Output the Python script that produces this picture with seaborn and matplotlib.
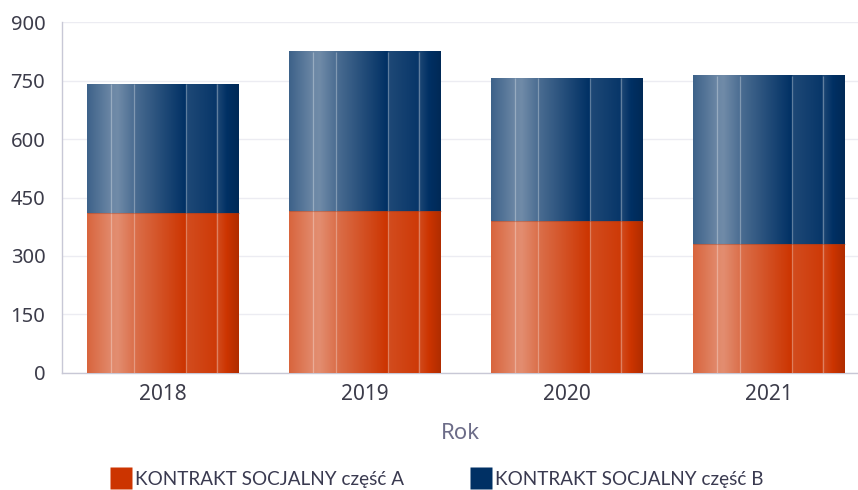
import numpy as np
import pandas as pd
import matplotlib
matplotlib.use("Agg")
import matplotlib.pyplot as plt
from matplotlib.lines import Line2D
import seaborn as sns

# ---- data ----
years = ["2018", "2019", "2020", "2021"]
part_a = [411, 416, 390, 330]
part_b = [331, 409, 366, 432]
series_labels = ["KONTRAKT SOCJALNY część A", "KONTRAKT SOCJALNY część B"]
y_ticks = [0, 150, 300, 450, 600, 750, 900]
x_label = "Rok"

color_a = np.array([204, 52, 0]) / 255
color_b = np.array([0, 48, 100]) / 255

sns.set_theme(style="white")
plt.rcParams["font.family"] = ["Noto Sans", "DejaVu Sans"]

fig = plt.figure(figsize=(8.58, 4.90), dpi=100)
ax = fig.add_axes([62 / 858, 1 - 372.7 / 490, 1 - 62 / 858, (372.7 - 22.3) / 490])

totals = [a + b for a, b in zip(part_a, part_b)]
df = pd.DataFrame({"year": years, "a": part_a, "total": totals})

sns.barplot(data=df, x="year", y="total", color=color_b, saturation=1,
            width=0.75, ax=ax, edgecolor="none", zorder=2)
n_b = len(ax.patches)
sns.barplot(data=df, x="year", y="a", color=color_a, saturation=1,
            width=0.75, ax=ax, edgecolor="none", zorder=2)
patches_b = ax.patches[:n_b]
patches_a = ax.patches[n_b:]

# glossy horizontal gradient profile (blend toward white; negative = darker)
tp = [0.0, 0.157, 0.20, 0.306, 0.50, 0.650, 0.655, 0.85, 0.855, 1.0]
fp = [0.24, 0.42, 0.44, 0.30, 0.13, 0.0, 0.12, 0.03, 0.12, -0.14]
tt = np.linspace(0, 1, 300)
prof = np.interp(tt, tp, fp)
line_ts = [0.157, 0.306, 0.653, 0.854]


def shade(base):
    img = np.empty((1, len(tt), 3))
    for i, f in enumerate(prof):
        if f >= 0:
            img[0, i] = base + (1 - base) * f
        else:
            img[0, i] = base * (1 + f)
    return np.clip(img, 0, 1)


img_a = shade(color_a)
img_b = shade(color_b)

for pa, pb in zip(patches_a, patches_b):
    x0, w = pa.get_x(), pa.get_width()
    ha = pa.get_height()
    hb = pb.get_height()
    ax.imshow(img_a, extent=(x0, x0 + w, 0, ha), aspect="auto",
              interpolation="bilinear", zorder=3)
    ax.imshow(img_b, extent=(x0, x0 + w, ha, hb), aspect="auto",
              interpolation="bilinear", zorder=3)
    for t in line_ts:
        ax.vlines(x0 + t * w, 0, hb, colors="white", alpha=0.3, lw=0.9, zorder=4)
    ax.hlines(ha, x0, x0 + w, colors="#7a3a30", alpha=0.35, lw=0.8, zorder=4)

ax.set_xlim(-0.5, 3.44)
ax.set_ylim(0, 900)
ax.set_yticks(y_ticks)
ax.set_yticklabels([str(v) for v in y_ticks])
ax.tick_params(axis="both", length=0, labelcolor="#3c3c4a")
ax.tick_params(axis="y", pad=12, labelsize=14.5)
ax.tick_params(axis="x", pad=8, labelsize=15)
ax.set_xlabel(x_label, fontsize=16, color="#6c6c88", labelpad=13)
ax.set_ylabel("")
ax.yaxis.grid(True, color="#ececf2", lw=1, zorder=0)
ax.set_axisbelow(True)
for s in ["top", "right"]:
    ax.spines[s].set_visible(False)
ax.spines["left"].set_color("#c8c8d6")
ax.spines["bottom"].set_color("#c8c8d6")
ax.spines["left"].set_linewidth(1)
ax.spines["bottom"].set_linewidth(1)

handles = [
    Line2D([0], [0], marker="s", linestyle="none", markersize=15.5,
           markerfacecolor=color_a, markeredgecolor="none"),
    Line2D([0], [0], marker="s", linestyle="none", markersize=15.5,
           markerfacecolor=color_b, markeredgecolor="none"),
]
fig.legend(handles, series_labels, loc="center", bbox_to_anchor=(0.509, 0.022),
           ncol=2, frameon=False, handlelength=1.15, handletextpad=0.15,
           columnspacing=3.5, borderaxespad=0,
           prop={"family": ["Lato", "DejaVu Sans"], "size": 13.6},
           labelcolor="#3a3a50")

fig.savefig("out.png", dpi=100)
